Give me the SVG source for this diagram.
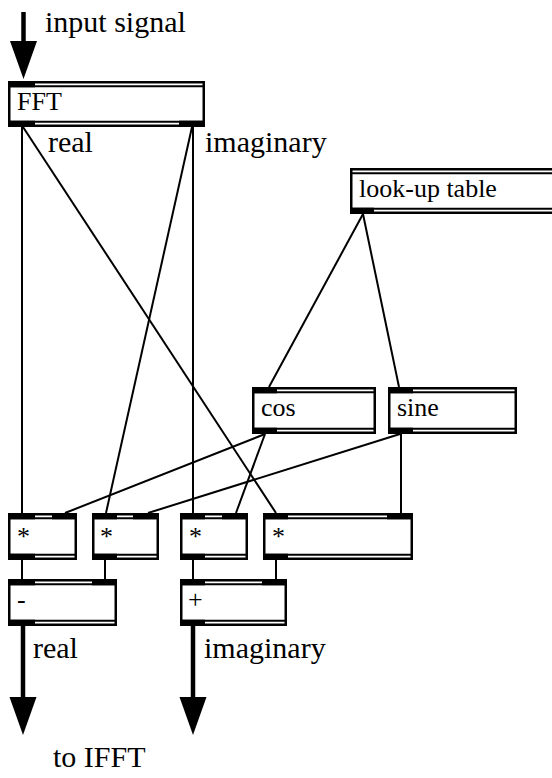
<svg xmlns="http://www.w3.org/2000/svg" width="552" height="778" viewBox="0 0 552 778">
<style>
.frame{fill:#fff;stroke:#000;stroke-width:2.5}
.bar{stroke:#000;stroke-width:2}
.port{fill:#000}
.lbl{font-family:'Liberation Serif',Tinos,'Times New Roman',Times,'Nimbus Roman','FreeSerif','DejaVu Serif','Noto Serif',serif;font-size:26px;fill:#000}
.free{font-family:'Liberation Serif',Tinos,'Times New Roman',Times,'Nimbus Roman','FreeSerif','DejaVu Serif','Noto Serif',serif;font-size:30px;fill:#000}
.wire{stroke:#000;stroke-width:2;fill:none}
.sig{stroke:#000;stroke-width:4.5;fill:none;marker-end:url(#head)}
</style>
<defs>
<marker id="head" markerUnits="userSpaceOnUse" markerWidth="38" markerHeight="28" viewBox="0 -14 38 28" refX="0" refY="0" orient="auto" overflow="visible">
<path d="M0,-13.5 L38,0 L0,13.5 Z" fill="#000"/>
</marker>
</defs>
<rect width="552" height="778" fill="#fff"/>

<g id="connectors">
<line class="wire" x1="22" y1="127" x2="22" y2="513"/>
<line class="wire" x1="23" y1="127" x2="276" y2="513"/>
<line class="wire" x1="193" y1="127" x2="193" y2="513"/>
<line class="wire" x1="192" y1="127" x2="106" y2="513"/>
<line class="wire" x1="363" y1="214" x2="269" y2="387"/>
<line class="wire" x1="363" y1="214" x2="399" y2="387"/>
<line class="wire" x1="265" y1="434" x2="65" y2="513"/>
<line class="wire" x1="265" y1="434" x2="236" y2="513"/>
<line class="wire" x1="400" y1="434" x2="148" y2="513"/>
<line class="wire" x1="401" y1="434" x2="401" y2="513"/>
<line class="wire" x1="22" y1="560" x2="22" y2="579"/>
<line class="wire" x1="105" y1="560" x2="105" y2="579"/>
<line class="wire" x1="193" y1="560" x2="193" y2="579"/>
<line class="wire" x1="276" y1="560" x2="276" y2="579"/>
<line class="sig" x1="23.5" y1="12" x2="23.5" y2="41"/>
<line class="sig" x1="23" y1="626" x2="23" y2="697"/>
<line class="sig" x1="193" y1="626" x2="193" y2="697"/>
</g>

<g id="labels">
<text class="free" x="45" y="32">input signal</text>
<text class="free" x="48" y="152">real</text>
<text class="free" x="205" y="152">imaginary</text>
<text class="free" x="33" y="658">real</text>
<text class="free" x="204" y="658">imaginary</text>
<text class="free" x="53" y="767">to IFFT</text>
</g>

<g id="fft">
<rect class="frame" x="9.25" y="82.25" width="194.5" height="43.5"/>
<line class="bar" x1="8" y1="86.3" x2="205" y2="86.3"/>
<line class="bar" x1="8" y1="121.7" x2="205" y2="121.7"/>
<rect class="port" x="8" y="81" width="27" height="6.3"/>
<rect class="port" x="8" y="120.7" width="27" height="6.3"/>
<rect class="port" x="179" y="120.7" width="26" height="6.3"/>
<text class="lbl" x="17" y="110">FFT</text>
</g>

<g id="lookup">
<rect class="frame" x="351.25" y="169.25" width="209.5" height="43.5"/>
<line class="bar" x1="350" y1="173.3" x2="562" y2="173.3"/>
<line class="bar" x1="350" y1="208.7" x2="562" y2="208.7"/>
<rect class="port" x="350" y="207.7" width="24" height="6.3"/>
<text class="lbl" x="359" y="197">look-up table</text>
</g>

<g id="cos">
<rect class="frame" x="253.25" y="388.25" width="121.5" height="44.5"/>
<line class="bar" x1="252" y1="392.3" x2="376" y2="392.3"/>
<line class="bar" x1="252" y1="428.7" x2="376" y2="428.7"/>
<rect class="port" x="252" y="387" width="25" height="6.3"/>
<rect class="port" x="252" y="427.7" width="25" height="6.3"/>
<text class="lbl" x="261" y="416">cos</text>
</g>

<g id="sine">
<rect class="frame" x="389.25" y="388.25" width="126.5" height="44.5"/>
<line class="bar" x1="388" y1="392.3" x2="517" y2="392.3"/>
<line class="bar" x1="388" y1="428.7" x2="517" y2="428.7"/>
<rect class="port" x="388" y="387" width="25" height="6.3"/>
<rect class="port" x="388" y="427.7" width="25" height="6.3"/>
<text class="lbl" x="397" y="416">sine</text>
</g>

<g id="mul1">
<rect class="frame" x="9.25" y="514.25" width="66.5" height="44.5"/>
<line class="bar" x1="8" y1="518.3" x2="77" y2="518.3"/>
<line class="bar" x1="8" y1="554.7" x2="77" y2="554.7"/>
<rect class="port" x="8" y="513" width="27" height="6.3"/>
<rect class="port" x="52" y="513" width="25" height="6.3"/>
<rect class="port" x="8" y="553.7" width="27" height="6.3"/>
<text class="lbl" x="17" y="545">*</text>
</g>

<g id="mul2">
<rect class="frame" x="93.25" y="514.25" width="64.5" height="44.5"/>
<line class="bar" x1="92" y1="518.3" x2="159" y2="518.3"/>
<line class="bar" x1="92" y1="554.7" x2="159" y2="554.7"/>
<rect class="port" x="92" y="513" width="25" height="6.3"/>
<rect class="port" x="133" y="513" width="26" height="6.3"/>
<rect class="port" x="92" y="553.7" width="25" height="6.3"/>
<text class="lbl" x="100" y="545">*</text>
</g>

<g id="mul3">
<rect class="frame" x="181.25" y="514.25" width="65.5" height="44.5"/>
<line class="bar" x1="180" y1="518.3" x2="248" y2="518.3"/>
<line class="bar" x1="180" y1="554.7" x2="248" y2="554.7"/>
<rect class="port" x="180" y="513" width="25" height="6.3"/>
<rect class="port" x="222" y="513" width="26" height="6.3"/>
<rect class="port" x="180" y="553.7" width="25" height="6.3"/>
<text class="lbl" x="189" y="545">*</text>
</g>

<g id="mul4">
<rect class="frame" x="264.25" y="514.25" width="147.5" height="44.5"/>
<line class="bar" x1="263" y1="518.3" x2="413" y2="518.3"/>
<line class="bar" x1="263" y1="554.7" x2="413" y2="554.7"/>
<rect class="port" x="263" y="513" width="25" height="6.3"/>
<rect class="port" x="387" y="513" width="26" height="6.3"/>
<rect class="port" x="263" y="553.7" width="25" height="6.3"/>
<text class="lbl" x="272" y="545">*</text>
</g>

<g id="sub">
<rect class="frame" x="9.25" y="580.25" width="106.5" height="44.5"/>
<line class="bar" x1="8" y1="584.3" x2="117" y2="584.3"/>
<line class="bar" x1="8" y1="620.7" x2="117" y2="620.7"/>
<rect class="port" x="8" y="579" width="27" height="6.3"/>
<rect class="port" x="92" y="579" width="25" height="6.3"/>
<rect class="port" x="8" y="619.7" width="27" height="6.3"/>
<text class="lbl" x="17" y="608">-</text>
</g>

<g id="add">
<rect class="frame" x="181.25" y="580.25" width="104.5" height="44.5"/>
<line class="bar" x1="180" y1="584.3" x2="287" y2="584.3"/>
<line class="bar" x1="180" y1="620.7" x2="287" y2="620.7"/>
<rect class="port" x="180" y="579" width="25" height="6.3"/>
<rect class="port" x="262" y="579" width="25" height="6.3"/>
<rect class="port" x="180" y="619.7" width="25" height="6.3"/>
<text class="lbl" x="188" y="608">+</text>
</g>
</svg>
